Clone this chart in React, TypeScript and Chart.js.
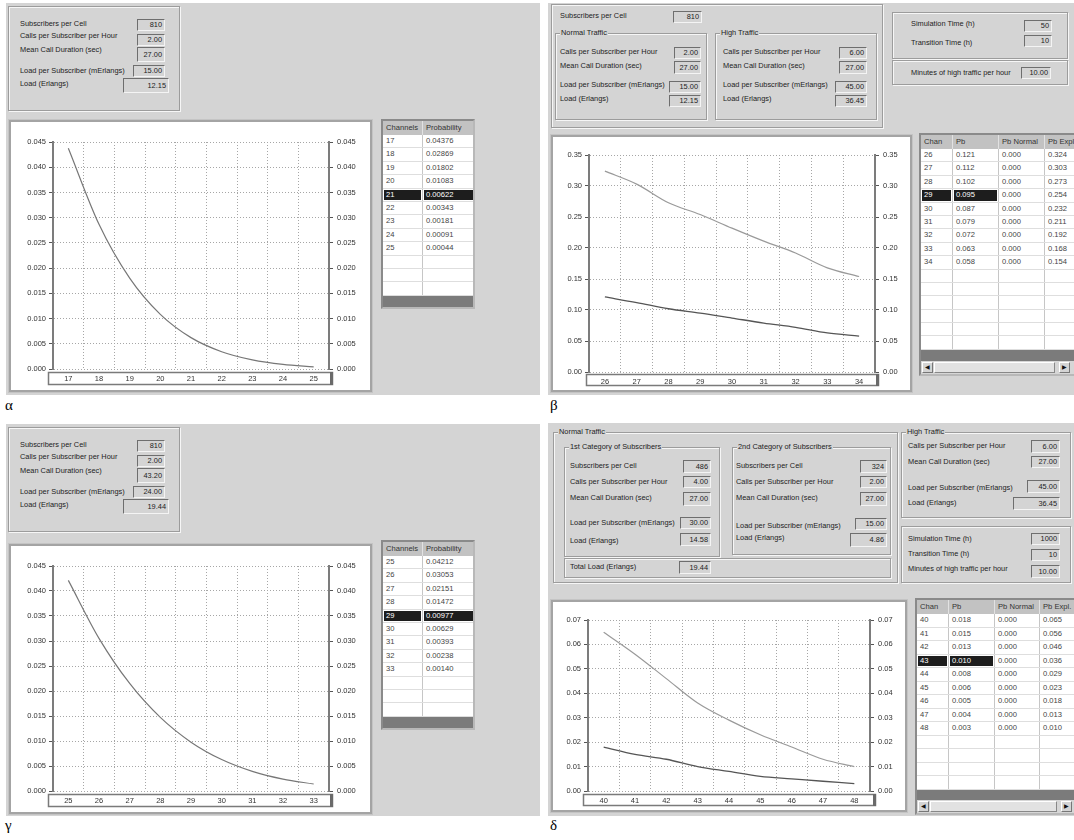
import React, { useEffect, useRef } from 'react';
import { Chart, registerables } from 'chart.js';
Chart.register(...registerables);

// ---------- data ----------
const alphaChannels = ['17', '18', '19', '20', '21', '22', '23', '24', '25'];
const alphaProbability = [0.04376, 0.02869, 0.01802, 0.01083, 0.00622, 0.00343, 0.00181, 0.00091, 0.00044];
const gammaChannels = ['25', '26', '27', '28', '29', '30', '31', '32', '33'];
const gammaProbability = [0.04212, 0.03053, 0.02151, 0.01472, 0.00977, 0.00629, 0.00393, 0.00238, 0.0014];
const betaChannels = ['26', '27', '28', '29', '30', '31', '32', '33', '34'];
const betaPb = [0.121, 0.112, 0.102, 0.095, 0.087, 0.079, 0.072, 0.063, 0.058];
const betaPbNormal = [0, 0, 0, 0, 0, 0, 0, 0, 0];
const betaPbExpl = [0.324, 0.303, 0.273, 0.254, 0.232, 0.211, 0.192, 0.168, 0.154];
const deltaChannels = ['40', '41', '42', '43', '44', '45', '46', '47', '48'];
const deltaPb = [0.018, 0.015, 0.013, 0.01, 0.008, 0.006, 0.005, 0.004, 0.003];
const deltaPbNormal = [0, 0, 0, 0, 0, 0, 0, 0, 0];
const deltaPbExpl = [0.065, 0.056, 0.046, 0.036, 0.029, 0.023, 0.018, 0.013, 0.01];

const smallYTicks = [0, 0.005, 0.01, 0.015, 0.02, 0.025, 0.03, 0.035, 0.04, 0.045];
const betaYTicks = [0, 0.05, 0.1, 0.15, 0.2, 0.25, 0.3, 0.35];
const deltaYTicks = [0, 0.01, 0.02, 0.03, 0.04, 0.05, 0.06, 0.07];

// ---------- styles ----------
const FONT = '"Liberation Sans", Arial, sans-serif';
const PANEL = '#d4d4d4';
const TXT = '#222';
const FS = 7.4;

type P = { [k: string]: any };

function Lbl({ x, cy, t }: P) {
  return (
    <div style={{ position: 'absolute', left: x, top: cy - 5, fontSize: FS, lineHeight: '10px', whiteSpace: 'nowrap', color: TXT }}>{t}</div>
  );
}

function Field({ x, y, w, h, v }: P) {
  return (
    <div
      style={{
        position: 'absolute', left: x, top: y, width: w, height: h, boxSizing: 'border-box',
        borderTop: '1px solid #6e6e6e', borderLeft: '1px solid #6e6e6e', borderRight: '1px solid #f4f4f4', borderBottom: '1px solid #f4f4f4',
        fontSize: FS, lineHeight: `${h - 2}px`, textAlign: 'right', paddingRight: 2, color: TXT, whiteSpace: 'nowrap', background: PANEL,
      }}
    >{v}</div>
  );
}

function Group({ x, y, w, h, title }: P) {
  return (
    <div
      style={{
        position: 'absolute', left: x, top: y, width: w, height: h, boxSizing: 'border-box',
        border: '1px solid #9c9c9c', boxShadow: 'inset 1px 1px 0 #f6f6f6, 1px 1px 0 #f6f6f6',
      }}
    >
      {title ? (
        <span style={{ position: 'absolute', left: 4, top: -6, background: PANEL, padding: '0 1px', fontSize: FS, lineHeight: '10px', whiteSpace: 'nowrap', color: TXT }}>{title}</span>
      ) : null}
    </div>
  );
}

const GRID = '#a6a6a6';
const TICKFONT = { family: FONT, size: 7.5 };

function LineChart({ box, plot, band, labels, series, yTicks, decimals }: P) {
  const ref = useRef<HTMLCanvasElement>(null);
  const bw = 2;
  const cx = box.x + bw;
  const cy = box.y + bw;
  const cw = box.w - 2 * bw;
  const ch = box.h - 2 * bw;
  useEffect(() => {
    const yMax = yTicks[yTicks.length - 1];
    const setTicks = (s: any) => {
      s.ticks = yTicks.map((v: number) => ({ value: v }));
    };
    const bandPlugin = {
      id: 'band',
      afterDraw(chart: any) {
        const ctx = chart.ctx;
        ctx.save();
        ctx.strokeStyle = '#7a7a7a';
        ctx.lineWidth = 1.5;
        ctx.strokeRect(band.x - cx + 0.5, band.y - cy + 0.5, band.w, band.h);
        ctx.fillStyle = '#6a6a6a';
        ctx.fillRect(band.x - cx + band.w - 2, band.y - cy, 3, band.h + 1);
        ctx.restore();
      },
    };
    const chart = new Chart(ref.current as HTMLCanvasElement, {
      type: 'line',
      data: {
        labels,
        datasets: series.map((s: any) => ({
          data: s.data, borderColor: s.color, borderWidth: s.width, pointRadius: 0,
          cubicInterpolationMode: 'monotone', fill: false, yAxisID: 'y',
        })),
      },
      options: {
        animation: false,
        responsive: false,
        events: [],
        layout: { padding: { top: plot.top - cy, left: 0, right: 0, bottom: 0 } },
        plugins: { legend: { display: false }, tooltip: { enabled: false } },
        scales: {
          x: {
            type: 'category',
            offset: true,
            grid: { offset: true, color: GRID, drawTicks: false },
            border: { display: false, dash: [1, 2] },
            ticks: { font: TICKFONT, color: '#333', padding: 5, autoSkip: false, maxRotation: 0 },
            afterFit: (s: any) => { s.height = cy + ch - plot.bottom; },
          },
          y: {
            position: 'left', min: 0, max: yMax,
            afterBuildTicks: setTicks,
            ticks: { font: TICKFONT, color: '#333', padding: 3, callback: (v: any) => Number(v).toFixed(decimals) },
            grid: { color: GRID, tickLength: 4, tickColor: '#555', tickWidth: 1 },
            border: { color: '#7c7c7c', width: 2, dash: [1, 2] },
            afterFit: (s: any) => { s.width = plot.left - cx; },
          },
          y2: {
            position: 'right', min: 0, max: yMax,
            afterBuildTicks: setTicks,
            ticks: { font: TICKFONT, color: '#333', padding: 4, callback: (v: any) => Number(v).toFixed(decimals) },
            grid: { drawOnChartArea: false, tickLength: 4, tickColor: '#555', tickWidth: 1 },
            border: { color: '#7c7c7c', width: 2 },
            afterFit: (s: any) => { s.width = cx + cw - plot.right; },
          },
        },
      } as any,
      plugins: [bandPlugin],
    });
    return () => chart.destroy();
  }, []);
  return (
    <div
      style={{
        position: 'absolute', left: box.x, top: box.y, width: box.w, height: box.h, boxSizing: 'border-box',
        border: `${bw}px solid #a4a4a4`, boxShadow: '0 0 0 1px #c4c4c4', background: '#fff',
      }}
    >
      <canvas ref={ref} width={cw} height={ch} style={{ display: 'block', width: cw, height: ch }} />
    </div>
  );
}

function DataGrid({ x, y, w, cols, rows, hi, hiCols, nRows, rowH, headerH, barH, scroll }: P) {
  const cell = (c: any, i: number, text: string, isHi: boolean, header: boolean) => (
    <div
      key={i}
      style={{
        width: c.w, flex: 'none', boxSizing: 'border-box', height: '100%', position: 'relative',
        borderRight: header ? '1px solid #e2e2e2' : '1px solid #c6c6c6', overflow: 'hidden', whiteSpace: 'nowrap',
        fontSize: 7.6, lineHeight: header ? `${headerH}px` : `${rowH - 1}px`, paddingLeft: 3, color: header ? '#333' : '#444',
      }}
    >
      {isHi ? (
        <div style={{ position: 'absolute', left: 1, top: 1, right: 1, bottom: 1, background: '#1d1d1d' }} />
      ) : null}
      <span style={{ position: 'relative', color: isHi ? '#fff' : undefined }}>{text}</span>
    </div>
  );
  const body = [];
  for (let r = 0; r < nRows; r++) {
    const row = rows[r];
    body.push(
      <div key={r} style={{ display: 'flex', height: rowH, boxSizing: 'border-box', borderBottom: '1px solid #dedede', background: '#fff' }}>
        {cols.map((c: any, i: number) => cell(c, i, row ? row[i] : '', r === hi && i < hiCols, false))}
      </div>
    );
  }
  return (
    <div
      style={{
        position: 'absolute', left: x, top: y, width: w, boxSizing: 'border-box', overflow: 'hidden',
        borderTop: '2px solid #8a8a8a', borderLeft: '2px solid #8a8a8a', borderRight: '2px solid #b8b8b8', borderBottom: '2px solid #b8b8b8',
        background: '#fff',
      }}
    >
      <div style={{ width: 400 }}>
        <div style={{ display: 'flex', height: headerH, background: '#c2c2c2' }}>
          {cols.map((c: any, i: number) => cell(c, i, c.t, false, true))}
        </div>
        {body}
        <div style={{ height: barH, background: '#7b7b7b' }} />
        {scroll ? (
          <div style={{ height: 13, background: '#d6d6d6', position: 'relative' }}>
            <div style={{ position: 'absolute', left: 1, top: 1, width: 11, height: 11, boxSizing: 'border-box', border: '1px solid', borderColor: '#fff #777 #777 #fff', background: '#d4d4d4', fontSize: 6, lineHeight: '9px', textAlign: 'center', color: '#111' }}>◀</div>
            <div style={{ position: 'absolute', left: 13, top: 1, width: scroll - 13, height: 11, boxSizing: 'border-box', border: '1px solid', borderColor: '#fff #888 #888 #fff', background: '#e2e2e2' }} />
            <div style={{ position: 'absolute', left: scroll + 4, top: 1, width: 11, height: 11, boxSizing: 'border-box', border: '1px solid', borderColor: '#fff #777 #777 #fff', background: '#d4d4d4', fontSize: 6, lineHeight: '9px', textAlign: 'center', color: '#111' }}>▶</div>
          </div>
        ) : null}
      </div>
    </div>
  );
}

function SimplePanel({ dy, vals, channels, probs, hi, yTicks, plotTop, plotBottom, boxTop, boxBottom }: P) {
  return (
    <>
      <div style={{ position: 'absolute', left: 6, top: 3 + dy, width: 534, height: 392, background: PANEL }} />
      <Group x={8} y={6 + dy} w={172} h={105} />
      <Lbl x={20} cy={24 + dy} t="Subscribers per Cell" />
      <Lbl x={20} cy={36 + dy} t="Calls per Subscriber per Hour" />
      <Lbl x={20} cy={50 + dy} t="Mean Call Duration (sec)" />
      <Lbl x={20} cy={71 + dy} t="Load per Subscriber (mErlangs)" />
      <Lbl x={20} cy={84 + dy} t="Load (Erlangs)" />
      <Field x={137} y={19 + dy} w={28} h={12} v={vals[0]} />
      <Field x={137} y={34 + dy} w={28} h={12} v={vals[1]} />
      <Field x={137} y={47 + dy} w={28} h={15} v={vals[2]} />
      <Field x={133} y={65 + dy} w={32} h={12} v={vals[3]} />
      <Field x={123} y={78 + dy} w={46} h={15} v={vals[4]} />
      <LineChart
        box={{ x: 9, y: boxTop, w: 363, h: boxBottom - boxTop }}
        plot={{ left: 53, right: 329, top: plotTop, bottom: plotBottom }}
        band={{ x: 48, y: plotBottom + 3, w: 284, h: 12 }}
        labels={channels}
        series={[{ data: probs, color: '#777', width: 1.2 }]}
        yTicks={yTicks}
        decimals={3}
      />
      <DataGrid
        x={381} y={119 + dy} w={94}
        cols={[{ t: 'Channels', w: 40 }, { t: 'Probability', w: 52 }]}
        rows={channels.map((c: string, i: number) => [c, probs[i].toFixed(5)])}
        hi={hi} hiCols={2} nRows={12} rowH={13.4} headerH={14} barH={11}
      />
    </>
  );
}

export default function App() {
  const serif = { position: 'absolute' as const, fontFamily: '"Liberation Serif", "Times New Roman", serif', fontSize: 15, lineHeight: '16px', color: '#000' };
  return (
    <div style={{ position: 'absolute', left: 0, top: 0, width: 1074, height: 840, background: '#fff', overflow: 'hidden', fontFamily: FONT }}>
      {/* alpha */}
      <SimplePanel dy={0} vals={['810', '2.00', '27.00', '15.00', '12.15']} channels={alphaChannels} probs={alphaProbability} hi={4}
        yTicks={smallYTicks} plotTop={142} plotBottom={369} boxTop={120} boxBottom={392} />
      {/* gamma */}
      <SimplePanel dy={421} vals={['810', '2.00', '43.20', '24.00', '19.44']} channels={gammaChannels} probs={gammaProbability} hi={4}
        yTicks={smallYTicks} plotTop={566} plotBottom={791} boxTop={544} boxBottom={814} />

      {/* beta */}
      <div style={{ position: 'absolute', left: 548, top: 3, width: 526, height: 392, background: PANEL }} />
      <Group x={551} y={4} w={332} h={124} />
      <Lbl x={560} cy={16} t="Subscribers per Cell" />
      <Field x={673} y={11} w={29} h={12} v="810" />
      <Group x={555} y={33} w={152} h={87} title="Normal Traffic" />
      <Lbl x={560} cy={52} t="Calls per Subscriber per Hour" />
      <Lbl x={560} cy={66} t="Mean Call Duration (sec)" />
      <Lbl x={560} cy={85} t="Load per Subscriber (mErlangs)" />
      <Lbl x={560} cy={99} t="Load (Erlangs)" />
      <Field x={674} y={47} w={27} h={12} v="2.00" />
      <Field x={674} y={61} w={27} h={13} v="27.00" />
      <Field x={669} y={81} w={32} h={12} v="15.00" />
      <Field x={669} y={95} w={32} h={12} v="12.15" />
      <Group x={715} y={33} w={162} h={87} title="High Traffic" />
      <Lbl x={723} cy={52} t="Calls per Subscriber per Hour" />
      <Lbl x={723} cy={66} t="Mean Call Duration (sec)" />
      <Lbl x={723} cy={85} t="Load per Subscriber (mErlangs)" />
      <Lbl x={723} cy={99} t="Load (Erlangs)" />
      <Field x={839} y={47} w={28} h={12} v="6.00" />
      <Field x={839} y={61} w={28} h={13} v="27.00" />
      <Field x={835} y={81} w={32} h={12} v="45.00" />
      <Field x={835} y={95} w={32} h={12} v="36.45" />
      <Group x={892} y={12} w={176} h={47} />
      <Lbl x={911} cy={24} t="Simulation Time (h)" />
      <Lbl x={911} cy={43} t="Transition Time (h)" />
      <Field x={1024} y={20} w={28} h={12} v="50" />
      <Field x={1024} y={35} w={28} h={12} v="10" />
      <Group x={892} y={60} w={176} h={25} />
      <Lbl x={911} cy={73} t="Minutes of high traffic per hour" />
      <Field x={1021} y={67} w={30} h={12} v="10.00" />
      <LineChart
        box={{ x: 551, y: 135, w: 361, h: 257 }}
        plot={{ left: 589, right: 875, top: 155, bottom: 372 }}
        band={{ x: 586, y: 374, w: 292, h: 11 }}
        labels={betaChannels}
        series={[
          { data: betaPbExpl, color: '#9a9a9a', width: 1.2 },
          { data: betaPb, color: '#555', width: 1.3 },
        ]}
        yTicks={betaYTicks}
        decimals={2}
      />
      <DataGrid
        x={919} y={133} w={160}
        cols={[{ t: 'Chan', w: 32 }, { t: 'Pb', w: 46 }, { t: 'Pb Normal', w: 46 }, { t: 'Pb Expl.', w: 50 }]}
        rows={betaChannels.map((c, i) => [c, betaPb[i].toFixed(3), betaPbNormal[i].toFixed(3), betaPbExpl[i].toFixed(3)])}
        hi={3} hiCols={2} nRows={15} rowH={13.4} headerH={14} barH={11} scroll={134}
      />

      {/* delta */}
      <div style={{ position: 'absolute', left: 548, top: 423, width: 526, height: 393, background: PANEL }} />
      <Group x={553} y={432} w={345} h={151} title="Normal Traffic" />
      <Group x={564} y={447} w={156} h={110} title="1st Category of Subscribers" />
      <Lbl x={570} cy={466} t="Subscribers per Cell" />
      <Lbl x={570} cy={482} t="Calls per Subscriber per Hour" />
      <Lbl x={570} cy={498} t="Mean Call Duration (sec)" />
      <Lbl x={570} cy={523} t="Load per Subscriber (mErlangs)" />
      <Lbl x={570} cy={541} t="Load (Erlangs)" />
      <Field x={683} y={460} w={28} h={13} v="486" />
      <Field x={683} y={476} w={28} h={12} v="4.00" />
      <Field x={683} y={492} w={28} h={14} v="27.00" />
      <Field x={680} y={517} w={31} h={12} v="30.00" />
      <Field x={680} y={533} w={31} h={13} v="14.58" />
      <Group x={732} y={447} w={159} h={108} title="2nd Category of Subscribers" />
      <Lbl x={736} cy={466} t="Subscribers per Cell" />
      <Lbl x={736} cy={482} t="Calls per Subscriber per Hour" />
      <Lbl x={736} cy={498} t="Mean Call Duration (sec)" />
      <Lbl x={736} cy={526} t="Load per Subscriber (mErlangs)" />
      <Lbl x={736} cy={538} t="Load (Erlangs)" />
      <Field x={860} y={460} w={27} h={13} v="324" />
      <Field x={860} y={476} w={27} h={12} v="2.00" />
      <Field x={860} y={492} w={27} h={14} v="27.00" />
      <Field x={855} y={518} w={32} h={12} v="15.00" />
      <Field x={850} y={533} w={37} h={14} v="4.86" />
      <Group x={564} y={558} w={327} h={20} />
      <Lbl x={570} cy={567} t="Total Load (Erlangs)" />
      <Field x={679} y={561} w={32} h={13} v="19.44" />
      <Group x={901} y={432} w={170} h={86} title="High Traffic" />
      <Lbl x={908} cy={446} t="Calls per Subscriber per Hour" />
      <Lbl x={908} cy={462} t="Mean Call Duration (sec)" />
      <Lbl x={908} cy={488} t="Load per Subscriber (mErlangs)" />
      <Lbl x={908} cy={503} t="Load (Erlangs)" />
      <Field x={1031} y={440} w={29} h={13} v="6.00" />
      <Field x={1031} y={456} w={29} h={12} v="27.00" />
      <Field x={1027} y={480} w={33} h={13} v="45.00" />
      <Field x={1013} y={497} w={47} h={13} v="36.45" />
      <Group x={901} y={526} w={170} h={57} />
      <Lbl x={908} cy={539} t="Simulation Time (h)" />
      <Lbl x={908} cy={554} t="Transition Time (h)" />
      <Lbl x={908} cy={569} t="Minutes of high traffic per hour" />
      <Field x={1031} y={533} w={29} h={12} v="1000" />
      <Field x={1031} y={549} w={29} h={12} v="10" />
      <Field x={1031} y={565} w={29} h={13} v="10.00" />
      <LineChart
        box={{ x: 551, y: 600, w: 356, h: 212 }}
        plot={{ left: 588, right: 870, top: 620, bottom: 791 }}
        band={{ x: 583, y: 794, w: 292, h: 11 }}
        labels={deltaChannels}
        series={[
          { data: deltaPbExpl, color: '#9a9a9a', width: 1.2 },
          { data: deltaPb, color: '#555', width: 1.3 },
        ]}
        yTicks={deltaYTicks}
        decimals={2}
      />
      <DataGrid
        x={915} y={598} w={165}
        cols={[{ t: 'Chan', w: 32 }, { t: 'Pb', w: 46 }, { t: 'Pb Normal', w: 45 }, { t: 'Pb Expl.', w: 50 }]}
        rows={deltaChannels.map((c, i) => [c, deltaPb[i].toFixed(3), deltaPbNormal[i].toFixed(3), deltaPbExpl[i].toFixed(3)])}
        hi={3} hiCols={2} nRows={13} rowH={13.5} headerH={14} barH={10} scroll={140}
      />

      {/* panel labels */}
      <div style={{ ...serif, left: 5, top: 397 }}>α</div>
      <div style={{ ...serif, left: 550, top: 397 }}>β</div>
      <div style={{ ...serif, left: 5, top: 817 }}>γ</div>
      <div style={{ ...serif, left: 550, top: 817 }}>δ</div>
    </div>
  );
}
